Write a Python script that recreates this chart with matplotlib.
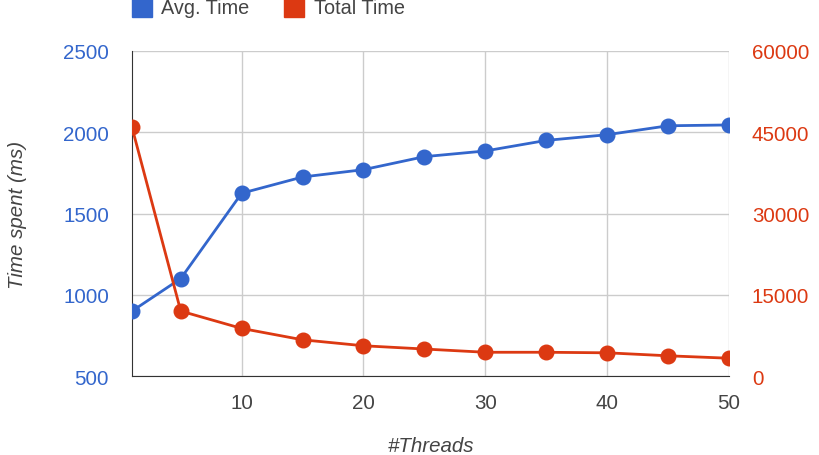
import matplotlib
matplotlib.use('Agg')
import matplotlib.pyplot as plt
from matplotlib.patches import Rectangle

# ─────────── data ───────────
threads    = [1, 5, 10, 15, 20, 25, 30, 35, 40, 45, 50]
avg_time   = [900, 1100, 1625, 1725, 1770, 1850, 1885, 1950, 1985, 2040, 2045]
total_time = [45900, 12000, 8800, 6700, 5600, 5000, 4400, 4400, 4300, 3750, 3300]

x_ticks     = [10, 20, 30, 40, 50]
left_ticks  = [500, 1000, 1500, 2000, 2500]
right_ticks = [0, 15000, 30000, 45000, 60000]

BLUE = '#3366CC'
RED  = '#DC3912'
GRID = '#cccccc'
TEXT = '#444444'
FS   = 14.8

plt.rcParams['font.family'] = ['Liberation Sans', 'DejaVu Sans']

fig = plt.figure(figsize=(8.2, 4.56), dpi=100)
ax = fig.add_axes([0.161, 0.173, 0.728, 0.713])
ax2 = ax.twinx()

ax.plot(threads, avg_time, color=BLUE, lw=2, marker='o', ms=10.5, zorder=3)
ax2.plot(threads, total_time, color=RED, lw=2, marker='o', ms=10.5, zorder=3)

ax.set_xlim(1, 50)
ax.set_ylim(500, 2500)
ax2.set_ylim(0, 60000)
ax.set_xticks(x_ticks)
ax.set_yticks(left_ticks)
ax2.set_yticks(right_ticks)

ax.grid(True, color=GRID, lw=1)
ax.set_axisbelow(True)
for a in (ax, ax2):
    for s in a.spines.values():
        s.set_visible(False)
ax.spines['left'].set_visible(True)
ax.spines['bottom'].set_visible(True)
ax.spines['left'].set_color('#333333')
ax.spines['bottom'].set_color('#333333')

ax.tick_params(axis='x', length=0, pad=12.5, labelsize=FS, labelcolor=TEXT)
ax.tick_params(axis='y', length=0, pad=16.5, labelsize=FS, labelcolor=BLUE)
ax2.tick_params(axis='y', length=0, pad=16.5, labelsize=FS, labelcolor=RED)

ax.set_xlabel('#Threads', style='italic', color=TEXT, fontsize=FS, labelpad=17)
ax.set_ylabel('Time spent (ms)', style='italic', color=TEXT, fontsize=FS, labelpad=26)

# legend at the top
fig.patches.append(Rectangle((132/820, 1 - 18/456), 20/820, 20/456,
                             transform=fig.transFigure, color=BLUE))
fig.text(161/820, 1 - 8/456, 'Avg. Time', color=TEXT, fontsize=14.3, va='center')
fig.patches.append(Rectangle((284/820, 1 - 18/456), 20/820, 20/456,
                             transform=fig.transFigure, color=RED))
fig.text(314/820, 1 - 8/456, 'Total Time', color=TEXT, fontsize=14.3, va='center')

fig.savefig('out.png', dpi=100)
